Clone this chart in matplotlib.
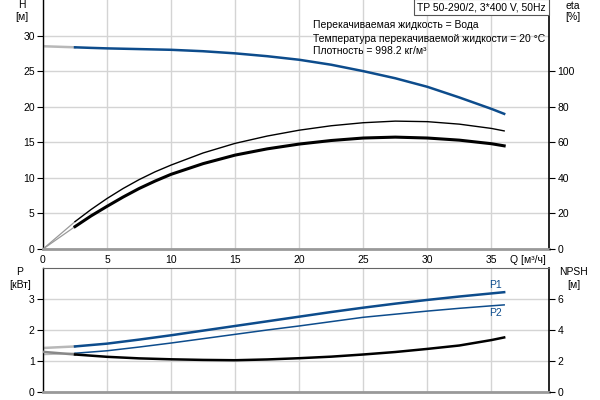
import matplotlib
matplotlib.use("Agg")
import matplotlib.pyplot as plt

plt.rcParams['font.family'] = ['Liberation Sans', 'DejaVu Sans']
plt.rcParams['font.size'] = 7.5

# ---- data ----
q = [2.5, 3.75, 5, 6.25, 7.5, 8.75, 10, 12.5, 15, 17.5, 20, 22.5, 25, 27.5, 30, 32.5, 35, 36]
h = [28.35, 28.27, 28.2, 28.15, 28.1, 28.05, 28.0, 27.8, 27.5, 27.1, 26.6, 25.9, 25.0, 24.0, 22.8, 21.3, 19.7, 19.0]
eta_pump = [15.4, 22.2, 28.4, 34.0, 39.0, 43.4, 47.2, 54, 59.4, 63.5, 66.8, 69.3, 71.0, 71.9, 71.6, 70.2, 67.8, 66.4]
eta_total = [12.6, 18.6, 24.0, 29.2, 34.0, 38.2, 42.0, 48, 52.8, 56.3, 59, 61, 62.4, 62.9, 62.4, 61.2, 59.2, 58.0]
q_p = [2.5, 5, 7.5, 10, 12.5, 15, 17.5, 20, 22.5, 25, 27.5, 30, 32.5, 35, 36]
p1 = [1.47, 1.56, 1.69, 1.83, 1.98, 2.13, 2.28, 2.43, 2.58, 2.72, 2.85, 2.97, 3.08, 3.18, 3.22]
p2 = [1.25, 1.33, 1.45, 1.58, 1.72, 1.86, 2.0, 2.13, 2.27, 2.41, 2.51, 2.61, 2.7, 2.78, 2.81]
npsh = [2.42, 2.27, 2.17, 2.11, 2.07, 2.05, 2.1, 2.18, 2.28, 2.42, 2.58, 2.78, 3.0, 3.35, 3.52]
# low-flow (grey) parts, Q 0 .. 2.5
q_low = [0, 2.5]
h_low = [28.5, 28.35]
eta_pump_low = [0, 15.4]
eta_total_low = [0, 12.6]
p1_low = [1.42, 1.47]
p2_low = [1.21, 1.25]
npsh_low = [2.59, 2.42]

x_ticks = [0, 5, 10, 15, 20, 25, 30, 35]
h_ticks = [0, 5, 10, 15, 20, 25, 30]
eta_ticks = [0, 20, 40, 60, 80, 100]
p_ticks = [0, 1, 2, 3]
npsh_ticks = [0, 2, 4, 6]

BLUE = '#0d4c8c'
GREY = '#b8b8b8'
GRID = '#d4d4d4'

W, H = 600, 400
fig = plt.figure(figsize=(6, 4), dpi=100)

def rect(l, t, r, b):
    return [l / W, 1 - b / H, (r - l) / W, (b - t) / H]

ax = fig.add_axes(rect(43, 0, 549, 249))
ax2 = ax.twinx()
bx = fig.add_axes(rect(43, 268, 549, 392))
bx2 = bx.twinx()

for a in (ax, bx):
    a.set_xlim(0, 39.5)
    a.set_xticks(x_ticks)
    a.grid(True, color=GRID, lw=1)
    a.set_axisbelow(True)
    a.spines['bottom'].set_color('#999999')
    a.spines['bottom'].set_linewidth(2)
    a.spines['top'].set_color('#666666')
    a.spines['left'].set_linewidth(1)
    a.tick_params(axis='x', length=0, pad=4)
    a.tick_params(axis='y', length=4, width=0.8, pad=2)

ax.spines['top'].set_visible(False)
ax.set_ylim(0, 35)
ax.set_yticks(h_ticks)
ax2.set_ylim(0, 140)
ax2.set_yticks(eta_ticks)
ax2.tick_params(axis='y', length=4, width=0.8, pad=2)
for s in ax2.spines.values():
    s.set_visible(False)
ax.spines['right'].set_linewidth(1.2)

bx.set_ylim(0, 4)
bx.set_yticks(p_ticks)
bx.set_xticklabels([])
bx2.set_ylim(0, 8)
bx2.set_yticks(npsh_ticks)
bx2.tick_params(axis='y', length=4, width=0.8, pad=2)
for s in bx2.spines.values():
    s.set_visible(False)
bx.spines['right'].set_linewidth(1.2)

# top curves
ax.plot(q_low, h_low, color=GREY, lw=1.8)
ax.plot(q, h, color=BLUE, lw=1.8)
ax2.plot(q_low, eta_pump_low, color='#999999', lw=0.9)
ax2.plot(q_low, eta_total_low, color='#999999', lw=0.9)
ax2.plot(q, eta_pump, color='black', lw=1.0)
ax2.plot(q, eta_total, color='black', lw=2.2)

# bottom curves
bx.plot(q_low, p1_low, color=GREY, lw=1.8)
bx.plot(q_low, p2_low, color=GREY, lw=1.2)
bx.plot(q_p, p1, color=BLUE, lw=1.8)
bx.plot(q_p, p2, color=BLUE, lw=1.1)
bx2.plot(q_low, npsh_low, color='#888888', lw=1.8)
bx2.plot(q_p, npsh, color='black', lw=1.8)

bx.text(34.8, 3.28, 'P1', color=BLUE, ha='left', va='bottom', fontsize=7.5)
bx.text(34.8, 2.72, 'P2', color=BLUE, ha='left', va='top', fontsize=7.5)

# axis titles
def ftext(x, y, s, **kw):
    fig.text(x / W, 1 - y / H, s, ha='center', va='center', fontsize=7.5, **kw)

ftext(22, 5, 'H')
ftext(22, 17, '[м]')
ftext(573, 6, 'eta')
ftext(573, 17, '[%]')
ftext(20, 272, 'P')
ftext(20, 285, '[кВт]')
ftext(574, 272, 'NPSH')
ftext(574, 285, '[м]')
fig.text(510 / W, 1 - 260 / H, 'Q [м³/ч]', ha='left', va='center', fontsize=7.5)

fig.text(546 / W, 1 - 7 / H, 'TP 50-290/2, 3*400 V, 50Hz', ha='right', va='center',
         fontsize=7.5,
         bbox=dict(boxstyle='square,pad=0.3', fc='white', ec='#555555', lw=0.8))
fig.text(313 / W, 1 - 25.5 / H, 'Перекачиваемая жидкость = Вода', ha='left', va='center', fontsize=7.5)
fig.text(313 / W, 1 - 38.5 / H, 'Температура перекачиваемой жидкости = 20 °C', ha='left', va='center', fontsize=7.5)
fig.text(313 / W, 1 - 51 / H, 'Плотность = 998.2 кг/м³', ha='left', va='center', fontsize=7.5)

fig.savefig('out.png', dpi=100)
